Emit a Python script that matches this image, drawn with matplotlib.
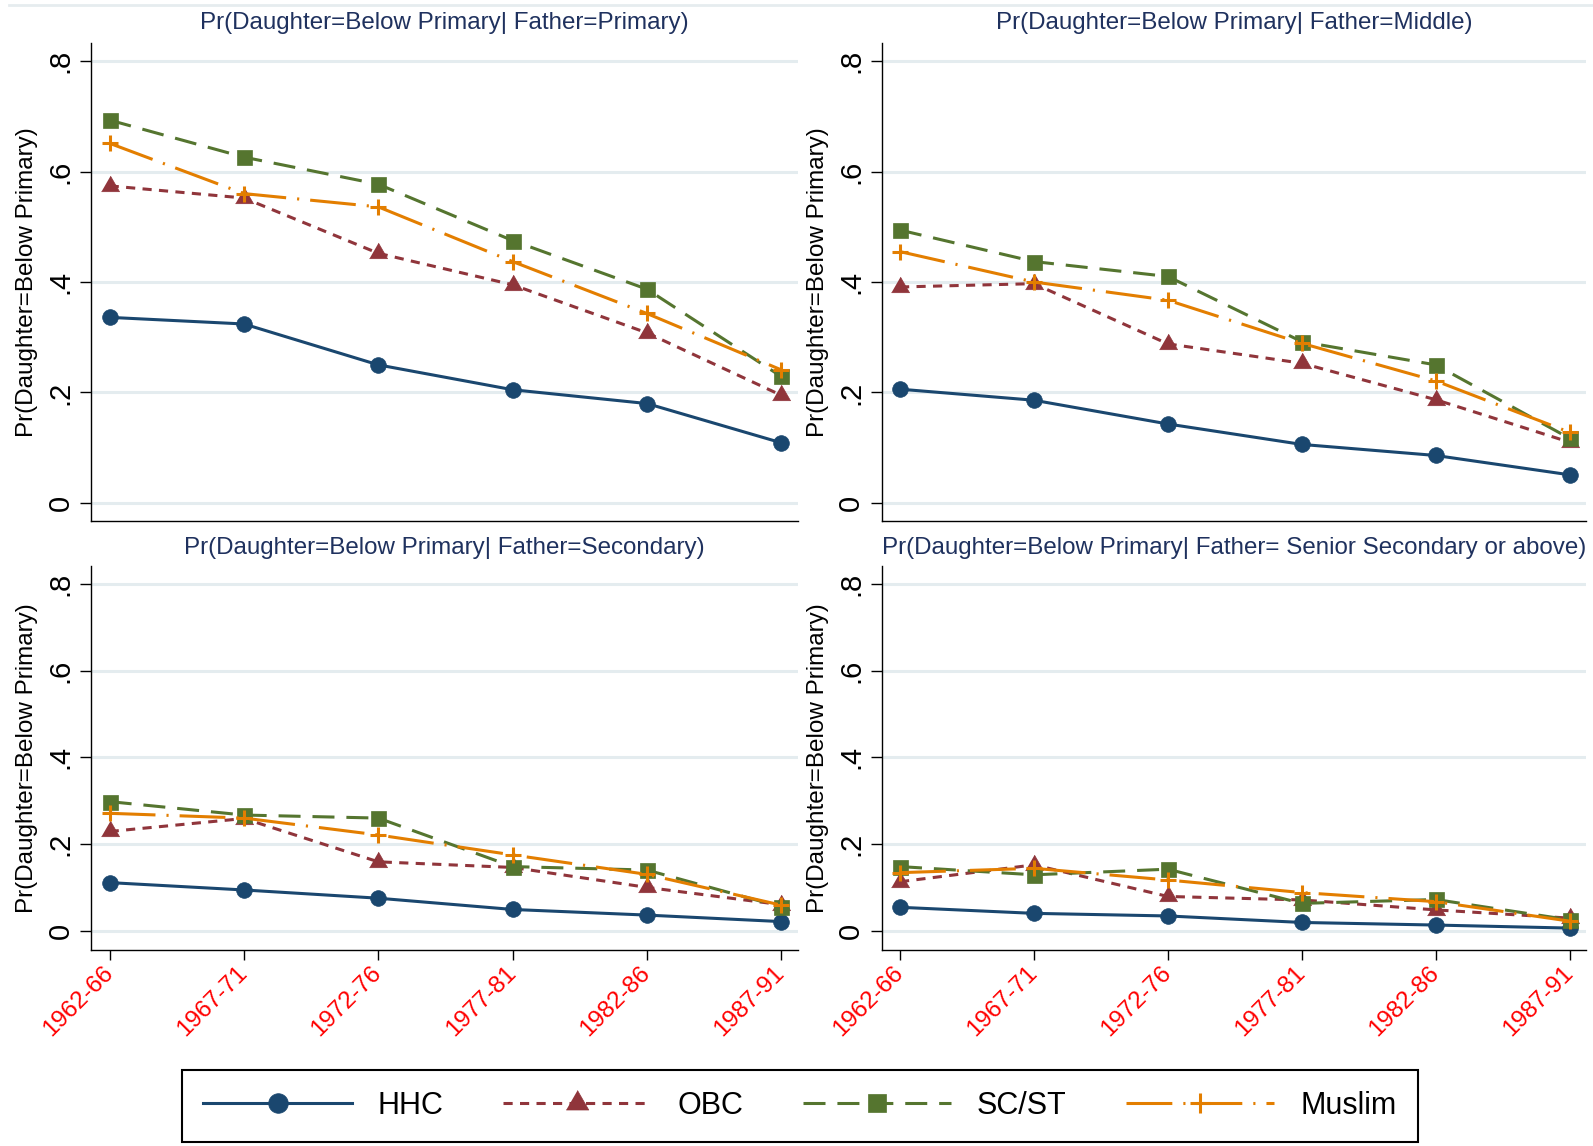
import matplotlib
matplotlib.use('Agg')
import matplotlib.pyplot as plt
from matplotlib.lines import Line2D
import numpy as np

plt.rcParams['font.family'] = ['Liberation Sans', 'DejaVu Sans']

# ---------------- data ----------------
cohorts = ['1962-66', '1967-71', '1972-76', '1977-81', '1982-86', '1987-91']
groups = ['HHC', 'OBC', 'SC/ST', 'Muslim']
titles = ['Pr(Daughter=Below Primary| Father=Primary)',
          'Pr(Daughter=Below Primary| Father=Middle)',
          'Pr(Daughter=Below Primary| Father=Secondary)',
          'Pr(Daughter=Below Primary| Father= Senior Secondary or above)']
ylabel_text = 'Pr(Daughter=Below Primary)'
yticks = [0, 0.2, 0.4, 0.6, 0.8]
ytick_labels = ['0', '.2', '.4', '.6', '.8']

# Father = Primary
hhc_primary = [0.336, 0.324, 0.250, 0.205, 0.180, 0.109]
obc_primary = [0.574, 0.552, 0.452, 0.395, 0.308, 0.195]
scst_primary = [0.693, 0.626, 0.577, 0.475, 0.387, 0.229]
muslim_primary = [0.651, 0.560, 0.536, 0.437, 0.343, 0.241]

# Father = Middle
hhc_middle = [0.206, 0.186, 0.143, 0.106, 0.086, 0.051]
obc_middle = [0.391, 0.397, 0.288, 0.253, 0.187, 0.110]
scst_middle = [0.494, 0.437, 0.410, 0.292, 0.250, 0.117]
muslim_middle = [0.455, 0.400, 0.367, 0.289, 0.221, 0.128]

# Father = Secondary
hhc_secondary = [0.111, 0.094, 0.075, 0.049, 0.036, 0.021]
obc_secondary = [0.229, 0.259, 0.159, 0.146, 0.100, 0.060]
scst_secondary = [0.298, 0.267, 0.260, 0.148, 0.140, 0.055]
muslim_secondary = [0.271, 0.260, 0.221, 0.175, 0.130, 0.059]

# Father = Senior Secondary or above
hhc_senior = [0.054, 0.040, 0.034, 0.019, 0.013, 0.006]
obc_senior = [0.113, 0.152, 0.079, 0.071, 0.048, 0.029]
scst_senior = [0.148, 0.129, 0.142, 0.063, 0.072, 0.025]
muslim_senior = [0.134, 0.144, 0.117, 0.088, 0.067, 0.022]

panels = [
    [hhc_primary, obc_primary, scst_primary, muslim_primary],
    [hhc_middle, obc_middle, scst_middle, muslim_middle],
    [hhc_secondary, obc_secondary, scst_secondary, muslim_secondary],
    [hhc_senior, obc_senior, scst_senior, muslim_senior],
]

# ---------------- styles ----------------
tri = [(-1.0, -0.577), (1.0, -0.577), (0.0, 1.155)]
styles = [
    dict(color='#1a476f', ls='-', marker='o', ms=11.3, mew=0.5),
    dict(color='#90353b', ls=(0, (3.0, 2.4)), marker=tri, ms=15.0, mew=0.5),
    dict(color='#55752f', ls=(0, (7.2, 3.9)), marker='s', ms=10.8, mew=0.5),
    dict(color='#e37e00', ls=(0, (15, 3.6, 0.7, 3.6)), marker='+', ms=12.0, mew=2.2),
]
LW = 2.2
title_color = '#1f315e'
grid_color = '#e4ecef'

W, H = 1593, 1146
fig = plt.figure(figsize=(W / 100, H / 100), dpi=100)

# faint outer border line at top
fig.add_artist(Line2D([9 / W, 1.0], [1 - 5 / H, 1 - 5 / H], color='#e6ecef', lw=2.0))

rects = [
    [91.4 / W, 1 - 521 / H, 706.2 / W, 478 / H],
    [881.8 / W, 1 - 521 / H, 704.2 / W, 478 / H],
    [91.4 / W, 1 - 950 / H, 706.2 / W, 384 / H],
    [881.8 / W, 1 - 950 / H, 704.2 / W, 384 / H],
]
ylims = [(-0.0326, 0.8326), (-0.0326, 0.8326), (-0.0446, 0.842), (-0.0446, 0.842)]

x = np.arange(len(cohorts))
handles = []
for i, (rect, series, title) in enumerate(zip(rects, panels, titles)):
    ax = fig.add_axes(rect)
    for j, (vals, st) in enumerate(zip(series, styles)):
        ln, = ax.plot(x, vals, color=st['color'], linestyle=st['ls'], lw=LW,
                      marker=st['marker'], markersize=st['ms'],
                      markerfacecolor=st['color'], markeredgecolor=st['color'],
                      markeredgewidth=st['mew'], zorder=3 + j,
                      solid_joinstyle='round', label=groups[j])
        if i == 0:
            handles.append(ln)
    ax.set_xlim(-0.136, 5.122)
    ax.set_ylim(*ylims[i])
    ax.set_yticks(yticks)
    ax.set_yticklabels(ytick_labels, rotation=90, va='center', fontsize=21)
    ax.yaxis.grid(True, color=grid_color, lw=2.2)
    ax.set_axisbelow(True)
    for s in ['top', 'right']:
        ax.spines[s].set_visible(False)
    for s in ['left', 'bottom']:
        ax.spines[s].set_linewidth(1.0)
        ax.spines[s].set_color('black')
    ax.tick_params(axis='y', length=8, width=1.0, pad=4)
    ax.set_xticks(x)
    if i >= 2:
        ax.set_xticklabels(cohorts, rotation=45, ha='right', va='center',
                           rotation_mode='anchor', color='red', fontsize=17.5)
        ax.tick_params(axis='x', length=7.5, width=1.0, pad=7)
    else:
        ax.set_xticklabels([])
        ax.tick_params(axis='x', length=0)
    ax.set_ylabel(ylabel_text, fontsize=17.5, va='center')
    ax.yaxis.set_label_coords(-64 / (rect[2] * W), 0.5)
    off = 19.5 / (rect[3] * H) if i < 2 else 17.8 / (rect[3] * H)
    ax.text(0.5, 1 + off, title, transform=ax.transAxes, ha='center', va='center',
            fontsize=17.4, color=title_color)

leg = fig.legend(handles, groups, loc='center', bbox_to_anchor=(800 / W, 1 - 1106 / H),
                 ncol=4, fontsize=22, handlelength=4.85, handletextpad=0.85,
                 columnspacing=1.95, borderpad=0.7, frameon=True, fancybox=False,
                 edgecolor='black', framealpha=1, markerscale=1.25)
leg.get_frame().set_linewidth(1.5)

fig.savefig('out.png', dpi=100, facecolor='white')
